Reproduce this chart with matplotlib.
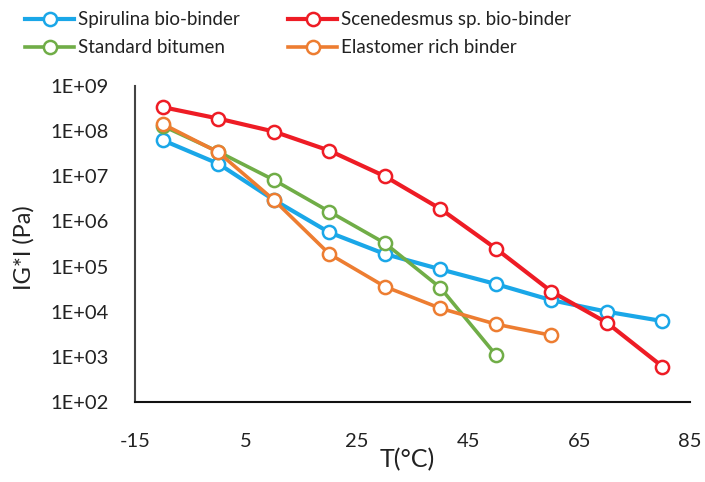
import numpy as np
import matplotlib.pyplot as plt
from matplotlib.ticker import FixedLocator, NullLocator

plt.rcParams['font.family'] = ['Lato', 'DejaVu Sans']
plt.rcParams['axes.unicode_minus'] = False

# Temperatura (°C)
temp = [-10, 0, 10, 20, 30, 40, 50, 60, 70, 80]

# |G*| (Pa) por ligante
spirulina = [6.3e7, 1.9e7, 3.0e6, 5.7e5, 1.9e5, 8.7e4, 4.1e4, 1.8e4, 1.0e4, 6.2e3]
scenedesmus = [3.4e8, 1.9e8, 9.8e7, 3.7e7, 1.0e7, 1.9e6, 2.5e5, 2.8e4, 5.7e3, 6.1e2]
standard = [1.3e8, 3.5e7, 8.3e6, 1.65e6, 3.3e5, 3.4e4, 1.1e3]
elastomer = [1.44e8, 3.4e7, 3.0e6, 1.9e5, 3.6e4, 1.19e4, 5.3e3, 3.0e3]

fig = plt.figure(figsize=(7.05, 4.82), dpi=100)
ax = fig.add_axes([0.1915, 0.166, 0.7875, 0.6556])

mk = dict(marker='o', markersize=9.5, markerfacecolor='white', markeredgewidth=1.8)
l1, = ax.plot(temp, spirulina, color='#1AA7E8', lw=3, label='Spirulina bio-binder', **mk)
l3, = ax.plot(temp[:len(standard)], standard, color='#70AD47', lw=2.6, label='Standard bitumen', **mk)
l4, = ax.plot(temp[:len(elastomer)], elastomer, color='#ED7D31', lw=2.6, label='Elastomer rich binder', **mk)
l2, = ax.plot(temp, scenedesmus, color='#EE1C25', lw=3, label='Scenedesmus sp. bio-binder', **mk)

ax.set_yscale('log')
ax.set_ylim(1e2, 1e9)
ax.set_xlim(-15, 85)
ax.xaxis.set_major_locator(FixedLocator([-15, 5, 25, 45, 65, 85]))
ax.yaxis.set_major_locator(FixedLocator([10.0 ** k for k in range(2, 10)]))
ax.yaxis.set_minor_locator(NullLocator())
ax.set_yticklabels(['1E+%02d' % k for k in range(2, 10)])

for s in ['top', 'right']:
    ax.spines[s].set_visible(False)
ax.spines['left'].set_color('#444444')
ax.spines['left'].set_linewidth(1.5)
ax.spines['bottom'].set_color('#111111')
ax.spines['bottom'].set_linewidth(1.5)
ax.tick_params(axis='both', length=0, labelsize=14.5, colors='#222222')
ax.tick_params(axis='y', pad=19)
ax.tick_params(axis='x', pad=22)

ax.set_xlabel('T(°C)', fontsize=18, color='#222222')
ax.xaxis.set_label_coords(0.49, -0.145)
ax.set_ylabel('IG*I (Pa)', fontsize=17, color='#222222')
ax.yaxis.set_label_coords(-0.18, 0.49)

fig.legend(handles=[l1, l3, l2, l4], ncol=2, loc='upper left',
           bbox_to_anchor=(0.012, 1.012), frameon=False, fontsize=13.5,
           handlelength=2.6, columnspacing=2.6, labelspacing=0.6,
           handletextpad=0.2, labelcolor='#222222')

plt.savefig('out.png', dpi=100)
